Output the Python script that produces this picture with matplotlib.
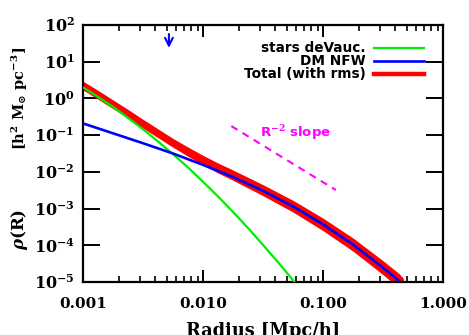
import numpy as np
import matplotlib
matplotlib.use('Agg')
import matplotlib.pyplot as plt
from matplotlib.ticker import FixedLocator, NullLocator, FuncFormatter
from matplotlib.lines import Line2D

plt.rcParams['mathtext.fontset'] = 'dejavuserif'

# ---- data (log10 radius [Mpc/h], log10 density) ----
log_r_stars = [-3.0, -2.875, -2.75, -2.625, -2.5, -2.375, -2.25, -2.125, -2.0,
               -1.875, -1.75, -1.625, -1.5, -1.375, -1.25, -1.2]
log_rho_stars = [0.30, 0.04, -0.23, -0.53, -0.84, -1.17, -1.52, -1.88, -2.27,
                 -2.67, -3.09, -3.53, -3.99, -4.46, -4.95, -5.15]

log_r_dm = [-3.0, -2.75, -2.5, -2.25, -2.0, -1.75, -1.5, -1.25, -1.0, -0.75, -0.5, -0.37, -0.33]
log_rho_dm = [-0.68, -0.95, -1.22, -1.50, -1.81, -2.14, -2.515, -2.94, -3.43, -3.98, -4.61, -4.96, -5.10]

log_r_tot = [-3.0, -2.875, -2.75, -2.625, -2.5, -2.375, -2.25, -2.125, -2.0, -1.875,
             -1.75, -1.5, -1.25, -1.0, -0.75, -0.5, -0.37, -0.33]
log_rho_tot = [0.35, 0.10, -0.16, -0.42, -0.69, -0.95, -1.21, -1.45, -1.68, -1.895,
               -2.09, -2.50, -2.935, -3.43, -3.98, -4.61, -4.96, -5.10]
rms_tot_dex = [0.12, 0.12, 0.12, 0.12, 0.12, 0.12, 0.12, 0.125, 0.13, 0.135,
               0.14, 0.15, 0.16, 0.17, 0.18, 0.19, 0.20, 0.20]

# R^-2 reference slope segment
slope_r = [0.0172, 0.128]
slope_rho0 = 0.177
slope_index = -2.0

# marked radius (arrow)
r_arrow = 0.0052

x_ticks = [0.001, 0.01, 0.1, 1.0]
y_ticks = [1e-5, 1e-4, 1e-3, 1e-2, 1e-1, 1e0, 1e1, 1e2]

legend_labels = ['stars deVauc.', 'DM NFW', 'Total (with rms)']

# ---- figure ----
W, H = 469, 335
fig = plt.figure(figsize=(W / 100, H / 100), dpi=100)
ax = fig.add_axes([83 / W, 1 - 282 / H, 360 / W, 257 / H])
ax.set_xscale('log')
ax.set_yscale('log')
ax.set_xlim(0.001, 1.0)
ax.set_ylim(1e-5, 1e2)

r_tot = np.power(10.0, log_r_tot)
rho_tot = np.power(10.0, log_rho_tot)
rms = np.array(rms_tot_dex)
ax.fill_between(r_tot, rho_tot * 10 ** (-rms), rho_tot * 10 ** rms, color='#ff0000', lw=0, zorder=2)
ax.plot(np.power(10.0, log_r_stars), np.power(10.0, log_rho_stars), color='#00ee00', lw=1.6, zorder=3)
ax.plot(np.power(10.0, log_r_dm), np.power(10.0, log_rho_dm), color='#0000ff', lw=1.9, zorder=4)

sr = np.array(slope_r)
ax.plot(sr, slope_rho0 * (sr / sr[0]) ** slope_index, color='#ff00ff', lw=1.5,
        dashes=(3.5, 2.8), zorder=3)
ax.text(0.492, 0.58, r'R$^{\mathbf{-2}}$ slope', transform=ax.transAxes, color='#ff00ff',
        fontsize=9.5, fontweight='bold', family='DejaVu Sans', ha='left', va='center')

ax.annotate('', xy=(r_arrow, 10 ** 1.30), xytext=(r_arrow, 10 ** 1.83),
            arrowprops=dict(arrowstyle='->', color='#0000ff', lw=1.5,
                            mutation_scale=14), zorder=5)

# legend (manual)
leg_colors = ['#00ee00', '#0000ff', '#ff0000']
leg_widths = [1.6, 1.9, 3.2]
leg_y = [0.910, 0.860, 0.809]
for lab, c, lw, yy in zip(legend_labels, leg_colors, leg_widths, leg_y):
    ax.text(0.786, yy, lab, transform=ax.transAxes, ha='right', va='center',
            fontsize=9.8, fontweight='bold', family='DejaVu Sans', color='black')
    ax.add_line(Line2D([0.808, 0.947], [yy, yy], transform=ax.transAxes, color=c, lw=lw))

# ticks
ax.xaxis.set_major_locator(FixedLocator(x_ticks))
minor = [m * d for d in [0.001, 0.01, 0.1] for m in range(2, 10)]
ax.xaxis.set_minor_locator(FixedLocator(minor))
ax.xaxis.set_major_formatter(FuncFormatter(lambda v, p: '%.3f' % v))
ax.yaxis.set_major_locator(FixedLocator(y_ticks))
ax.yaxis.set_minor_locator(NullLocator())
ax.yaxis.set_major_formatter(FuncFormatter(
    lambda v, p: r'$\mathbf{10^{%d}}$' % int(round(np.log10(v)))))

ax.tick_params(axis='x', which='major', direction='in', length=8.5, width=1.4,
               top=True, bottom=True, pad=11, labelsize=11)
ax.tick_params(axis='x', which='minor', direction='in', length=4.3, width=1.2,
               top=True, bottom=True)
ax.tick_params(axis='y', which='major', direction='in', length=12, width=1.4,
               left=True, right=True, pad=6, labelsize=11.5)
for lab in ax.get_xticklabels() + ax.get_yticklabels():
    lab.set_family('DejaVu Serif')
    lab.set_fontweight('bold')

for s in ax.spines.values():
    s.set_linewidth(1.6)

fig.text(263 / W, 1 - 331 / H, 'Radius [Mpc/h]', ha='center', va='center',
         fontsize=12.8, family='DejaVu Serif', fontweight='bold')
fig.text(20 / W, 1 - 229 / H, r'$\boldsymbol{\rho}$(R)', rotation=90, ha='center', va='center',
         fontsize=12, family='DejaVu Serif', fontweight='bold')
fig.text(20 / W, 1 - 98 / H, r'[h$^{\mathbf{2}}$ M$_{\mathbf{\odot}}$ pc$^{\mathbf{-3}}$]',
         rotation=90, ha='center', va='center', fontsize=10.5, family='DejaVu Serif',
         fontweight='bold')

fig.savefig('out.png', dpi=100)
